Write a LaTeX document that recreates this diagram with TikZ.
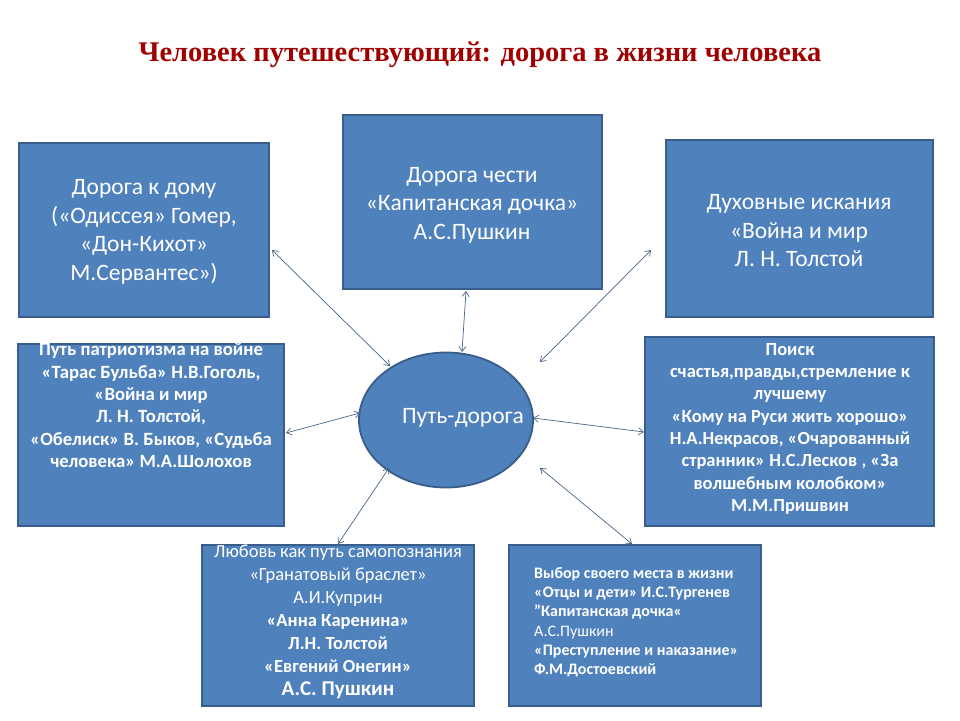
\documentclass[tikz,border=0pt]{standalone}
\usepackage{fontspec}
\setmainfont{Carlito}
\newfontfamily\titlefont{Liberation Serif}
\usetikzlibrary{arrows.meta,shapes.geometric}
\definecolor{boxfill}{HTML}{4F81BD}
\definecolor{boxline}{HTML}{385D8A}
\definecolor{titlered}{HTML}{A00000}
\begin{document}
\begin{tikzpicture}[x=1pt,y=-1pt,
  box/.style={draw=boxline,fill=boxfill,line width=1.8pt},
  txt/.style={text=white,align=center,inner sep=0pt},
  link/.style={draw=boxline!80!gray,line width=0.7pt,{Straight Barb[length=5pt,width=7pt]}-{Straight Barb[length=5pt,width=7pt]}}]
\useasboundingbox (0,0) rectangle (960,720);
\node[text=titlered,font=\titlefont\bfseries\fontsize{28.5}{32}\selectfont] (title) at (480,55) {Человек путешествующий: дорога в жизни человека};
\draw[box] (19,143) rectangle (269,317);
\draw[box] (343,115) rectangle (602,289);
\draw[box] (666,140) rectangle (933,317);
\draw[box] (18,344) rectangle (284,526);
\draw[box] (645,337) rectangle (934,526);
\draw[box] (202,545) rectangle (474,706);
\draw[box] (509,545) rectangle (761,706);
\node[box,ellipse,minimum width=174pt,minimum height=135pt,inner sep=0pt] (e) at (446,420) {};
\node[txt,font=\fontsize{23.5}{28}\selectfont] (et) at (463,418) {Путь-дорога};
\node[txt,font=\fontsize{23.5}{28.5}\selectfont] (t1) at (144,232) {Дорога к дому\\(«Одиссея» Гомер,\\«Дон-Кихот»\\М.Сервантес»)};
\node[txt,font=\fontsize{23.5}{28.5}\selectfont] (t2) at (472,205) {Дорога чести\\«Капитанская дочка»\\А.С.Пушкин};
\node[txt,font=\fontsize{23.5}{28.5}\selectfont] (t3) at (799,231) {Духовные искания\\«Война и мир\\Л. Н. Толстой};
\node[txt,font=\bfseries\fontsize{18.7}{22.3}\selectfont,anchor=north] (t4) at (151,343) {Путь патриотизма на войне\\«Тарас Бульба» Н.В.Гоголь,\\«Война и мир\\Л. Н. Толстой,\\«Обелиск» В. Быков, «Судьба\\человека» М.А.Шолохов};
\node[txt,font=\bfseries\fontsize{18.5}{22.3}\selectfont,anchor=north] (t5) at (790,343) {Поиск\\счастья,правды,стремление к\\лучшему\\«Кому на Руси жить хорошо»\\Н.А.Некрасов, «Очарованный\\странник» Н.С.Лесков , «За\\волшебным колобком»\\М.М.Пришвин};
\node[txt,anchor=north,font=\fontsize{18.5}{23}\selectfont] (t6) at (338,545) {Любовь как путь самопознания\\«Гранатовый браслет»\\А.И.Куприн\\\textbf{«Анна Каренина»}\\\textbf{Л.Н. Толстой}\\\textbf{«Евгений Онегин»}\\\textbf{\fontsize{21}{23}\selectfont А.С. Пушкин}};
\node[txt,align=left,anchor=north west,font=\fontsize{16}{19.3}\selectfont] (t7) at (534,567) {\textbf{Выбор своего места в жизни}\\\textbf{«Отцы и дети» И.С.Тургенев}\\\textbf{"Капитанская дочка«}\\А.С.Пушкин\\\textbf{«Преступление и наказание»}\\\textbf{Ф.М.Достоевский}};
\coordinate (a1) at (272,250); \coordinate (e1) at (390,366);
\coordinate (a2) at (466,291); \coordinate (e2) at (462,352);
\coordinate (a3) at (651,250); \coordinate (e3) at (540,362);
\coordinate (a4) at (286,433); \coordinate (e4) at (360,413);
\coordinate (a5) at (644,432); \coordinate (e5) at (533,418);
\coordinate (a6) at (338,544); \coordinate (e6) at (389,468);
\coordinate (a7) at (632,544); \coordinate (e7) at (540,468);
\foreach \i in {1,...,7} \draw[link] (a\i) -- (e\i);
\end{tikzpicture}
\end{document}
